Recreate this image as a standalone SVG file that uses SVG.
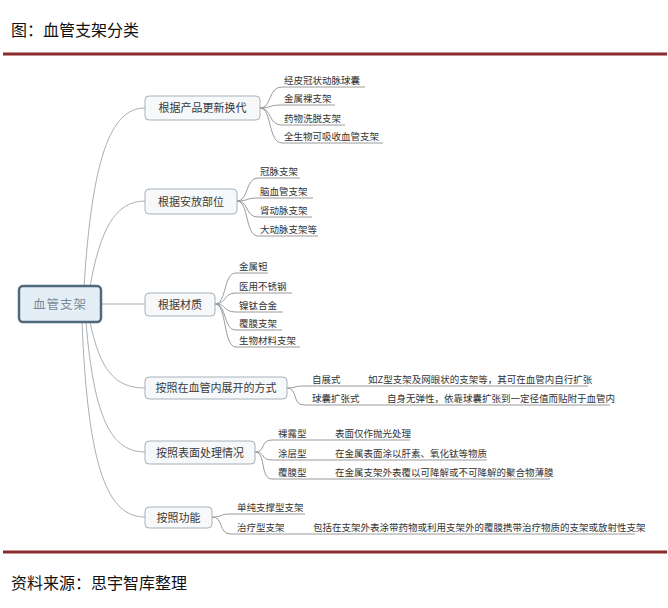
<svg xmlns="http://www.w3.org/2000/svg" width="668" height="608" viewBox="0 0 668 608">
<style>
text{font-family:"Noto Sans CJK SC","Noto Sans CJK JP",sans-serif;}
.title{font-size:16px;fill:#111;}
.rule{stroke:#8a2a2a;stroke-width:3;}
.conn{fill:none;stroke:#a8b0b6;stroke-width:1;}
.leafline{fill:none;stroke:#9a9a9a;stroke-width:1;}
.box{fill:#f6f8fa;stroke:#a6b2bb;stroke-width:1;}
.root{fill:#e4eef6;stroke:#4f6a7c;stroke-width:2.5;}
.bt{font-size:11px;fill:#3a3a3a;}
.rt{font-size:12.5px;fill:#7c8a96;letter-spacing:1px;}
.lt{font-size:9.5px;fill:#333;}
</style>
<rect width="668" height="608" fill="#fff"/>
<text class="title" x="11" y="36">图：血管支架分类</text>
<line class="rule" x1="3" y1="54" x2="667" y2="54"/>
<line class="rule" x1="3" y1="552" x2="667" y2="552"/>
<text class="title" x="11" y="589">资料来源：思宇智库整理</text>

<g id="connectors">
  <path class="conn" d="M84 287 C92 160 110 108 145 108"/>
  <path class="conn" d="M90 287 C100 230 115 201 145 201"/>
  <path class="conn" d="M101 304 L145 304"/>
  <path class="conn" d="M90 322 C100 370 115 388 145 388"/>
  <path class="conn" d="M86 322 C94 420 112 452 145 452"/>
  <path class="conn" d="M82 322 C88 470 108 517 145 517"/>
  <path class="leafline" d="M260 108 C272 108 268 87 282 87 L365 87"/>
  <path class="leafline" d="M260 108 C272 108 268 105 282 105 L335 105"/>
  <path class="leafline" d="M260 108 C272 108 268 125 282 125 L345 125"/>
  <path class="leafline" d="M260 108 C272 108 268 143 282 143 L383 143"/>
  <path class="leafline" d="M237 201 C249 201 245 178 258 178 L300 178"/>
  <path class="leafline" d="M237 201 C249 201 245 198 258 198 L313 198"/>
  <path class="leafline" d="M237 201 C249 201 245 217 258 217 L312 217"/>
  <path class="leafline" d="M237 201 C249 201 245 236 258 236 L318 236"/>
  <path class="leafline" d="M215 304 C227 304 223 273 236 273 L268 273"/>
  <path class="leafline" d="M215 304 C227 304 223 293 236 293 L292 293"/>
  <path class="leafline" d="M215 304 C227 304 223 312 236 312 L283 312"/>
  <path class="leafline" d="M215 304 C227 304 223 330 236 330 L282 330"/>
  <path class="leafline" d="M215 304 C227 304 223 347 236 347 L300 347"/>
  <path class="leafline" d="M287 388 C298 388 292 386 304 386 L588 386"/>
  <path class="leafline" d="M287 388 C298 388 292 405 304 405 L610 405"/>
  <path class="leafline" d="M255 452 C266 452 260 440 272 440 L410 440"/>
  <path class="leafline" d="M255 452 C266 452 260 460 272 460 L487 460"/>
  <path class="leafline" d="M255 452 C266 452 260 479 272 479 L550 479"/>
  <path class="leafline" d="M212 517 C224 517 218 514 231 514 L305 514"/>
  <path class="leafline" d="M212 517 C224 517 218 534 231 534 L635 534"/>
</g>

<g id="root">
  <rect class="root" x="19" y="286" width="82" height="36" rx="4"/>
  <text class="rt" x="60" y="308.5" text-anchor="middle">血管支架</text>
</g>

<g id="b1">
  <rect class="box" x="145" y="96" width="115" height="24" rx="4"/>
  <text class="bt" x="202.5" y="112" text-anchor="middle">根据产品更新换代</text>
</g>
<g id="b1-leaves">
  <text class="lt" x="284" y="84">经皮冠状动脉球囊</text>
  <text class="lt" x="284" y="102">金属裸支架</text>
  <text class="lt" x="284" y="122">药物洗脱支架</text>
  <text class="lt" x="284" y="140">全生物可吸收血管支架</text>
</g>

<g id="b2">
  <rect class="box" x="145" y="189" width="92" height="25" rx="4"/>
  <text class="bt" x="191" y="205.5" text-anchor="middle">根据安放部位</text>
</g>
<g id="b2-leaves">
  <text class="lt" x="260" y="175">冠脉支架</text>
  <text class="lt" x="260" y="195">脑血管支架</text>
  <text class="lt" x="260" y="214">肾动脉支架</text>
  <text class="lt" x="260" y="233">大动脉支架等</text>
</g>

<g id="b3">
  <rect class="box" x="145" y="293" width="70" height="23" rx="4"/>
  <text class="bt" x="180" y="308.5" text-anchor="middle">根据材质</text>
</g>
<g id="b3-leaves">
  <text class="lt" x="239" y="270">金属钽</text>
  <text class="lt" x="239" y="290">医用不锈钢</text>
  <text class="lt" x="239" y="309">镍钛合金</text>
  <text class="lt" x="239" y="327">覆膜支架</text>
  <text class="lt" x="239" y="344">生物材料支架</text>
</g>

<g id="b4">
  <rect class="box" x="145" y="377" width="142" height="22" rx="4"/>
  <text class="bt" x="216" y="392" text-anchor="middle">按照在血管内展开的方式</text>
</g>
<g id="b4-leaves">
  <text class="lt" x="312" y="383">自展式</text>
  <text class="lt" x="368" y="383">如Z型支架及网眼状的支架等，其可在血管内自行扩张</text>
  <text class="lt" x="312" y="402">球囊扩张式</text>
  <text class="lt" x="387" y="402">自身无弹性，依靠球囊扩张到一定径值而贴附于血管内</text>
</g>

<g id="b5">
  <rect class="box" x="145" y="441" width="110" height="23" rx="4"/>
  <text class="bt" x="200" y="456.5" text-anchor="middle">按照表面处理情况</text>
</g>
<g id="b5-leaves">
  <text class="lt" x="278" y="437">裸露型</text>
  <text class="lt" x="335" y="437">表面仅作抛光处理</text>
  <text class="lt" x="278" y="457">涂层型</text>
  <text class="lt" x="335" y="457">在金属表面涂以肝素、氧化钛等物质</text>
  <text class="lt" x="278" y="476">覆膜型</text>
  <text class="lt" x="335" y="476">在金属支架外表覆以可降解或不可降解的聚合物薄膜</text>
</g>

<g id="b6">
  <rect class="box" x="145" y="507" width="67" height="21" rx="4"/>
  <text class="bt" x="178.5" y="521.5" text-anchor="middle">按照功能</text>
</g>
<g id="b6-leaves">
  <text class="lt" x="237" y="511">单纯支撑型支架</text>
  <text class="lt" x="237" y="531">治疗型支架</text>
  <text class="lt" x="313" y="531">包括在支架外表涂带药物或利用支架外的覆膜携带治疗物质的支架或放射性支架</text>
</g>
</svg>
